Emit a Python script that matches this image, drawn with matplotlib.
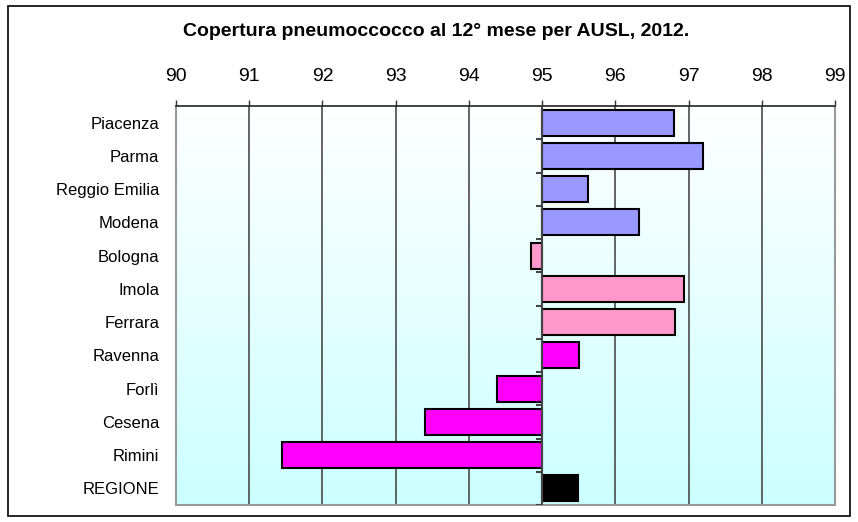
import matplotlib
matplotlib.use("Agg")
import matplotlib.pyplot as plt
import numpy as np
from matplotlib.patches import Rectangle
from matplotlib.colors import LinearSegmentedColormap

categories = ["Piacenza", "Parma", "Reggio Emilia", "Modena", "Bologna", "Imola",
              "Ferrara", "Ravenna", "Forlì", "Cesena", "Rimini", "REGIONE"]
values = [96.8, 97.2, 95.62, 96.32, 94.85, 96.94, 96.82, 95.51, 94.38, 93.4, 91.45, 95.49]
colors = ["#9999ff"] * 4 + ["#ff99cc"] * 3 + ["#ff00ff"] * 4 + ["#000000"]
xticks = list(range(90, 100))
baseline = 95
title = "Copertura pneumoccocco al 12° mese per AUSL, 2012."

plt.rcParams['font.family'] = ['Liberation Sans', 'DejaVu Sans']

fig = plt.figure(figsize=(8.58, 5.22), dpi=100)
ax = fig.add_axes([176/858, 1-505/522, (835-176)/858, (505-106)/522])

n = len(categories)
ax.set_xlim(90, 99)
ax.set_ylim(n - 0.5, -0.5)

# gradient background
grad = np.linspace(0, 1, 256).reshape(-1, 1)
cmap = LinearSegmentedColormap.from_list("bg", ["#ffffff", "#ccffff"])
ax.imshow(grad, aspect='auto', cmap=cmap, extent=[90, 99, n - 0.5, -0.5], zorder=0)

for x in xticks[1:-1]:
    ax.axvline(x, color="#4a4a4a", lw=1.2, zorder=1)

ypos = np.arange(n)
ax.barh(ypos, [v - baseline for v in values], left=baseline, height=0.78,
        color=colors, edgecolor="black", linewidth=1.5, zorder=3)

# central axis at baseline with ticks on category boundaries
ax.axvline(baseline, color="#444444", lw=1.5, zorder=4)
for b in np.arange(-0.5, n, 1.0):
    ax.plot([baseline - 0.09, baseline], [b, b], color="#444444", lw=1.5, zorder=4,
            solid_capstyle='butt')

ax.xaxis.tick_top()
ax.set_xticks(xticks)
ax.set_xticklabels([str(t) for t in xticks], fontsize=14)
ax.tick_params(axis='x', length=4, width=1, color="#333333", pad=11)
ax.set_yticks(ypos)
ax.set_yticklabels(categories, fontsize=12)
ax.tick_params(axis='y', length=0, pad=12)

for s in ['left', 'bottom', 'right']:
    ax.spines[s].set_color("#999999")
    ax.spines[s].set_linewidth(1.5)
ax.spines['top'].set_color("#222222")
ax.spines['top'].set_linewidth(1.2)

fig.text(436/858, 1 - 31/522, title, ha='center', va='center',
         fontsize=14, fontweight='bold')

fig.patches.append(Rectangle((8/858, 1-516/522), (850-8)/858, (516-6)/522,
                             transform=fig.transFigure, fill=False,
                             edgecolor="black", linewidth=1.2))

fig.savefig("out.png", dpi=100)
